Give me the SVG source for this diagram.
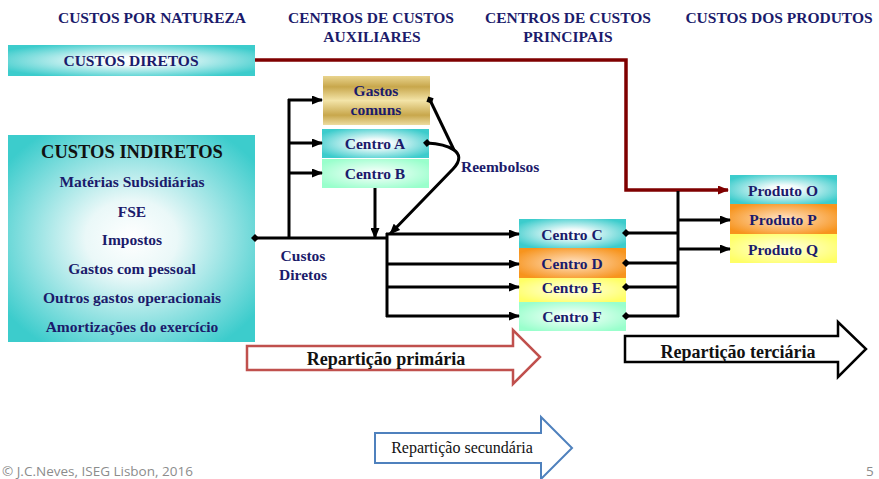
<svg xmlns="http://www.w3.org/2000/svg" width="879" height="479" viewBox="0 0 879 479">
<defs>
<radialGradient id="gTeal" cx="0.5" cy="0.5" r="0.6">
<stop offset="0" stop-color="#ffffff"/><stop offset="0.25" stop-color="#f2fbfb"/><stop offset="1" stop-color="#3ccccc"/>
</radialGradient>
<radialGradient id="gTealBig" cx="0.5" cy="0.5" r="0.62">
<stop offset="0" stop-color="#ffffff"/><stop offset="0.3" stop-color="#eaf8f8"/><stop offset="1" stop-color="#3ccccc"/>
</radialGradient>
<radialGradient id="gMint" cx="0.5" cy="0.5" r="0.6">
<stop offset="0" stop-color="#ffffff"/><stop offset="1" stop-color="#99ffcc"/>
</radialGradient>
<radialGradient id="gOrange" cx="0.5" cy="0.5" r="0.6">
<stop offset="0" stop-color="#ffe3c8"/><stop offset="1" stop-color="#f7941d"/>
</radialGradient>
<radialGradient id="gYellow" cx="0.5" cy="0.5" r="0.6">
<stop offset="0" stop-color="#ffffe6"/><stop offset="1" stop-color="#ffff66"/>
</radialGradient>
<linearGradient id="gGold" x1="0" y1="0" x2="0" y2="1">
<stop offset="0" stop-color="#e9d48e"/><stop offset="0.22" stop-color="#c8a74c"/><stop offset="0.5" stop-color="#f3e4a8"/><stop offset="0.8" stop-color="#c8a74c"/><stop offset="1" stop-color="#ecdca0"/>
</linearGradient>
<marker id="arr" markerUnits="userSpaceOnUse" markerWidth="11" markerHeight="9" refX="10" refY="4.5" orient="auto">
<path d="M0,0 L11,4.5 L0,9 z" fill="#000"/>
</marker>
<marker id="arrRed" markerUnits="userSpaceOnUse" markerWidth="11" markerHeight="9" refX="10" refY="4.5" orient="auto">
<path d="M0,0 L11,4.5 L0,9 z" fill="#7f0000"/>
</marker>
<marker id="dia" markerUnits="userSpaceOnUse" markerWidth="8" markerHeight="8" refX="4" refY="4" orient="auto">
<path d="M0,4 L4,0 L8,4 L4,8 z" fill="#000"/>
</marker>
</defs>
<style>
.hdr{font-family:"Liberation Serif","Times New Roman",serif;font-weight:bold;font-size:15.5px;fill:#1b1b6b;text-anchor:middle}
.lbl{font-family:"Liberation Serif","Times New Roman",serif;font-weight:bold;font-size:15.5px;fill:#1b1b6b;text-anchor:middle}
.lbl-l{font-family:"Liberation Serif","Times New Roman",serif;font-weight:bold;font-size:15.5px;fill:#1b1b6b}
.big{font-family:"Liberation Serif","Times New Roman",serif;font-weight:bold;font-size:18.5px;fill:#111;text-anchor:middle}
.rep{font-family:"Liberation Serif","Times New Roman",serif;font-weight:bold;font-size:18px;fill:#111;text-anchor:middle}
.rep2{font-family:"Liberation Serif","Times New Roman",serif;font-size:16px;fill:#111;text-anchor:middle}
.ln{fill:none;stroke:#000;stroke-width:3}
.foot{font-family:"Open Sans","Liberation Sans",sans-serif;font-size:13.5px;fill:#8c8c8c}
</style>

<g id="headers">
<text class="hdr" x="152" y="23">CUSTOS POR NATUREZA</text>
<text class="hdr" x="371" y="23">CENTROS DE CUSTOS</text>
<text class="hdr" x="372" y="42">AUXILIARES</text>
<text class="hdr" x="568" y="23">CENTROS DE CUSTOS</text>
<text class="hdr" x="568" y="42">PRINCIPAIS</text>
<text class="hdr" x="779" y="23">CUSTOS DOS PRODUTOS</text>
</g>

<g id="custos-diretos">
<rect x="8" y="45" width="247" height="31" fill="url(#gTeal)"/>
<text class="lbl" x="131" y="66">CUSTOS DIRETOS</text>
</g>

<g id="custos-indiretos">
<rect x="8" y="135" width="247" height="207" fill="url(#gTealBig)"/>
<text class="big" x="132" y="158">CUSTOS INDIRETOS</text>
<text class="lbl" x="132" y="187">Matérias Subsidiárias</text>
<text class="lbl" x="132" y="217">FSE</text>
<text class="lbl" x="132" y="245">Impostos</text>
<text class="lbl" x="132" y="274">Gastos com pessoal</text>
<text class="lbl" x="132" y="303">Outros gastos operacionais</text>
<text class="lbl" x="132" y="332">Amortizações do exercício</text>
</g>

<g id="gastos-comuns">
<rect x="323" y="76" width="107" height="49" fill="url(#gGold)"/>
<text class="lbl" x="376" y="96">Gastos</text>
<text class="lbl" x="376" y="115">comuns</text>
</g>
<g id="centro-a">
<rect x="322" y="129" width="107" height="29" fill="url(#gTeal)"/>
<text class="lbl" x="375" y="149">Centro A</text>
</g>
<g id="centro-b">
<rect x="322" y="159" width="107" height="29" fill="url(#gMint)"/>
<text class="lbl" x="375" y="179">Centro B</text>
</g>

<g id="centro-c">
<rect x="519" y="219" width="107" height="29" fill="url(#gTeal)"/>
<text class="lbl" x="572" y="240">Centro C</text>
</g>
<g id="centro-d">
<rect x="519" y="248" width="107" height="30" fill="url(#gOrange)"/>
<text class="lbl" x="572" y="269">Centro D</text>
</g>
<g id="centro-e">
<rect x="519" y="278" width="107" height="24" fill="url(#gYellow)"/>
<text class="lbl" x="572" y="293">Centro E</text>
</g>
<g id="centro-f">
<rect x="519" y="302" width="107" height="29" fill="url(#gMint)"/>
<text class="lbl" x="572" y="322">Centro F</text>
</g>

<g id="produto-o">
<rect x="730" y="175" width="107" height="29" fill="url(#gTeal)"/>
<text class="lbl" x="783" y="196">Produto O</text>
</g>
<g id="produto-p">
<rect x="730" y="204" width="107" height="30" fill="url(#gOrange)"/>
<text class="lbl" x="783" y="225">Produto P</text>
</g>
<g id="produto-q">
<rect x="730" y="234" width="107" height="29" fill="url(#gYellow)"/>
<text class="lbl" x="783" y="255">Produto Q</text>
</g>

<g id="connectors">
<polyline points="255,60 626,60 626,190 728,190" fill="none" stroke="#7f0000" stroke-width="3.5" marker-end="url(#arrRed)"/>
<line class="ln" x1="255" y1="238" x2="388" y2="238" marker-start="url(#dia)"/>
<line class="ln" x1="289" y1="238" x2="289" y2="99"/>
<line class="ln" x1="288" y1="100" x2="322" y2="100" marker-end="url(#arr)"/>
<line class="ln" x1="288" y1="143" x2="322" y2="143" marker-end="url(#arr)"/>
<line class="ln" x1="288" y1="173" x2="322" y2="173" marker-end="url(#arr)"/>
<line class="ln" x1="375" y1="188" x2="375" y2="238" marker-end="url(#arr)"/>
<path class="ln" d="M430,100 L454,150" marker-start="url(#dia)"/>
<path class="ln" d="M427,143 C446,144 470,151 453,169 L390,234" marker-start="url(#dia)" marker-end="url(#arr)"/>
<line class="ln" x1="387" y1="233" x2="387" y2="317"/>
<line class="ln" x1="386" y1="234" x2="519" y2="234" marker-end="url(#arr)"/>
<line class="ln" x1="386" y1="264" x2="519" y2="264" marker-end="url(#arr)"/>
<line class="ln" x1="386" y1="287" x2="519" y2="287" marker-end="url(#arr)"/>
<line class="ln" x1="386" y1="316" x2="519" y2="316" marker-end="url(#arr)"/>
<line class="ln" x1="678" y1="191" x2="678" y2="317"/>
<line class="ln" x1="626" y1="233" x2="679" y2="233" marker-start="url(#dia)"/>
<line class="ln" x1="626" y1="263" x2="679" y2="263" marker-start="url(#dia)"/>
<line class="ln" x1="626" y1="287" x2="679" y2="287" marker-start="url(#dia)"/>
<line class="ln" x1="626" y1="316" x2="679" y2="316" marker-start="url(#dia)"/>
<line class="ln" x1="677" y1="220" x2="730" y2="220" marker-end="url(#arr)"/>
<line class="ln" x1="677" y1="249" x2="730" y2="249" marker-end="url(#arr)"/>
</g>

<g id="labels">
<text class="lbl-l" x="461" y="172">Reembolsos</text>
<text class="lbl" x="303" y="261">Custos</text>
<text class="lbl" x="303" y="280">Diretos</text>
</g>

<g id="rep-primaria">
<polygon points="247,346 513,346 513,330 540,357 513,384 513,370 247,370" fill="#fff" stroke="#c0504d" stroke-width="2.5"/>
<text class="rep" x="386" y="365">Repartição primária</text>
</g>
<g id="rep-terciaria">
<polygon points="625,336 838,336 838,322 866,349 838,377 838,362 625,362" fill="#fff" stroke="#000" stroke-width="2.5"/>
<text class="rep" x="738" y="358">Repartição terciária</text>
</g>
<g id="rep-secundaria">
<polygon points="375,433 541,433 541,417 572,448 541,479 541,463 375,463" fill="#fff" stroke="#4f81bd" stroke-width="2"/>
<text class="rep2" x="462" y="453">Repartição secundária</text>
</g>

<g id="footer">
<text class="foot" x="2" y="476">© J.C.Neves, ISEG Lisbon, 2016</text>
<text class="foot" x="866" y="476">5</text>
</g>
</svg>
